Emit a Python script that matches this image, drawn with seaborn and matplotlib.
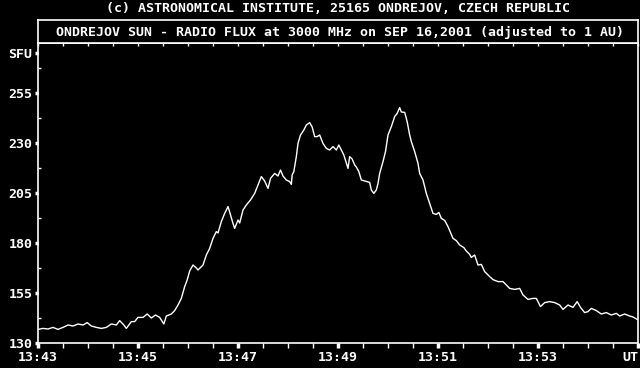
import matplotlib
matplotlib.use("Agg")
import matplotlib.pyplot as plt
import numpy as np
import pandas as pd
import seaborn as sns
from matplotlib.ticker import FixedLocator

# ---- data (seconds after 13:43:00 UT, flux in SFU) ----
time_s = [0, 6, 12, 18, 24, 30, 36, 42, 48, 54, 59, 64, 70, 76, 82, 88, 94, 98,
          103, 106, 112, 116, 120, 126, 131, 136, 141, 146, 151, 154, 160, 164,
          168, 172, 176, 179,
          182, 186, 190, 192, 198, 202, 206, 210, 214, 216, 220, 224, 228, 230,
          234, 236, 240, 242, 246, 250, 255, 260, 264, 268, 272, 276, 279, 284,
          288, 291, 294, 298, 302, 304, 305, 307, 310, 312, 315, 319, 322, 326,
          329, 332, 335, 338, 342, 346, 350, 354, 358, 361, 364, 367, 370, 372,
          374, 377, 380, 382, 385, 388, 392, 398, 400, 403, 406, 408, 410, 414,
          417, 420, 424, 428, 431, 434, 436, 440, 443, 446, 448, 452, 456, 458,
          462, 466, 470, 474, 478, 481, 484, 488, 492, 498, 502, 506, 511, 514,
          518,
          520, 524, 528, 532, 536, 542, 546, 552, 558, 562, 566, 572, 578, 582,
          588, 594, 598, 603, 608, 614, 620, 626, 630, 636, 642, 647, 651, 656,
          660, 664, 670, 676, 682, 688, 694, 698, 704, 710, 714, 719]
flux_sfu = [136.8, 137.3, 137.0, 137.8, 136.8, 137.8, 139.0, 138.5, 139.5, 139.0,
            140.2, 138.5, 137.8, 137.3, 137.8, 139.5, 139.0, 141.2, 139.0, 137.3,
            140.7, 140.7, 142.8, 142.8, 144.5, 142.5, 144.0, 142.8, 139.5, 143.5,
            144.5, 146.2, 149.0, 152.3, 158.2, 161.5,
            166.0, 169.0, 167.5, 166.5, 169.0, 174.0, 177.3, 182.3, 185.7, 185.0,
            190.7, 194.8, 198.2, 195.5, 189.8, 187.3, 191.5, 190.0, 196.5, 199.0,
            201.5, 204.8, 209.0, 213.2, 211.0, 207.3, 212.3, 214.8, 213.5, 216.5,
            213.5, 211.5, 210.7, 209.3, 214.0, 215.7, 223.2, 229.8, 234.0, 236.5,
            239.0, 240.2, 238.0, 233.2, 233.2, 234.0, 229.8, 227.3, 226.5, 228.2,
            226.5, 229.0, 226.5, 224.0, 220.0, 217.3, 223.2, 222.0, 219.0, 218.0,
            215.7, 211.5, 211.0, 210.3, 206.5, 204.8, 206.5, 209.8, 214.8, 220.7,
            225.7, 234.0, 238.2, 243.2, 244.8, 247.7, 245.5, 245.3, 240.7, 234.0,
            230.7, 225.7, 219.8, 214.8, 211.5, 204.8, 199.8, 194.8, 194.3, 195.3,
            192.3, 191.3, 188.2, 182.3, 181.2, 179.0, 177.7, 176.0, 174.3,
            172.8, 174.0, 169.0, 169.3, 165.7, 163.2, 161.7, 160.7, 160.7, 159.0,
            157.3, 156.8, 157.3, 154.0, 151.8, 152.3, 152.3, 148.2, 150.2, 150.7,
            150.2, 149.0, 146.8, 149.0, 147.8, 150.7, 147.8, 145.2, 145.7, 147.3,
            146.2, 144.5, 145.2, 144.0, 144.8, 143.5, 144.5, 143.5, 143.0, 141.8]

x_tick_sec = [0, 120, 240, 360, 480, 600, 720]
x_tick_labels = ["13:43", "13:45", "13:47", "13:49", "13:51", "13:53", "UT"]
y_ticks = [130, 155, 180, 205, 230, 255, 275]
y_tick_labels = ["130", "155", "180", "205", "230", "255", "SFU"]

header = "(c) ASTRONOMICAL INSTITUTE, 25165 ONDREJOV, CZECH REPUBLIC"
title = "ONDREJOV SUN - RADIO FLUX at 3000 MHz on SEP 16,2001 (adjusted to 1 AU)"

df = pd.DataFrame({"t": time_s, "flux": flux_sfu})

FONT = "DejaVu Sans Mono"
FS = 9.5
FW = "bold"
W, H = 640, 368

sns.set_style("dark")
plt.rcParams["font.family"] = [FONT]

fig = plt.figure(figsize=(W / 100, H / 100), dpi=100, facecolor="black")

# main plot
ax = fig.add_axes([38 / W, 25 / H, 600 / W, 300 / H])
ax.set_facecolor("black")
sns.lineplot(data=df, x="t", y="flux", ax=ax, color="white", linewidth=1.0)
ax.set_xlim(0, 720)
ax.set_ylim(130, 280)
ax.set_xlabel("")
ax.set_ylabel("")
ax.grid(False)
for sp in ax.spines.values():
    sp.set_color("white")
    sp.set_linewidth(1.2)
    sp.set_visible(True)

ax.set_xticks(x_tick_sec)
ax.set_xticklabels(x_tick_labels)
ax.xaxis.set_minor_locator(FixedLocator(np.arange(0, 721, 30)))
ax.set_yticks(y_ticks)
ax.set_yticklabels(y_tick_labels)
ax.yaxis.set_minor_locator(FixedLocator(np.arange(142.5, 275, 12.5)))

ax.tick_params(axis="x", which="major", direction="out", length=3.5, width=2.5,
               colors="white", labelsize=FS, pad=2, bottom=True, top=False)
ax.tick_params(axis="x", which="minor", direction="out", length=3.5, width=1,
               colors="white", bottom=True, top=False)
ax.tick_params(axis="y", which="major", direction="out", length=2.5, width=2.5,
               colors="white", labelsize=FS, pad=1.5, left=True, right=False)
ax.tick_params(axis="y", which="minor", direction="in", length=2.5, width=1,
               colors="white", left=True, right=False)
for lab in ax.get_xticklabels() + ax.get_yticklabels():
    lab.set_color("white")
    lab.set_fontfamily(FONT)
    lab.set_fontweight(FW)
ax.get_xticklabels()[-1].set_horizontalalignment("right")

# ticks along the top (inside)
sec = ax.secondary_xaxis("top")
sec.set_xticks(np.arange(0, 721, 30))
sec.set_xticklabels([])
sec.tick_params(direction="in", length=2, width=1, colors="white")
sec.spines["top"].set_color("white")
sec.spines["top"].set_linewidth(1.2)

# title box
tax = fig.add_axes([38 / W, 325 / H, 600 / W, 23 / H])
tax.set_facecolor("black")
tax.set_xticks([])
tax.set_yticks([])
tax.grid(False)
for sp in tax.spines.values():
    sp.set_color("white")
    sp.set_linewidth(1.2)
    sp.set_visible(True)
tax.text(0.503, 0.45, title, ha="center", va="center", color="white",
         fontsize=FS, fontfamily=FONT, fontweight=FW, transform=tax.transAxes)

fig.text(338 / W, 1 - 8 / H, header, ha="center", va="center", color="white",
         fontsize=FS, fontfamily=FONT, fontweight=FW)

fig.savefig("out.png", dpi=100, facecolor="black")
